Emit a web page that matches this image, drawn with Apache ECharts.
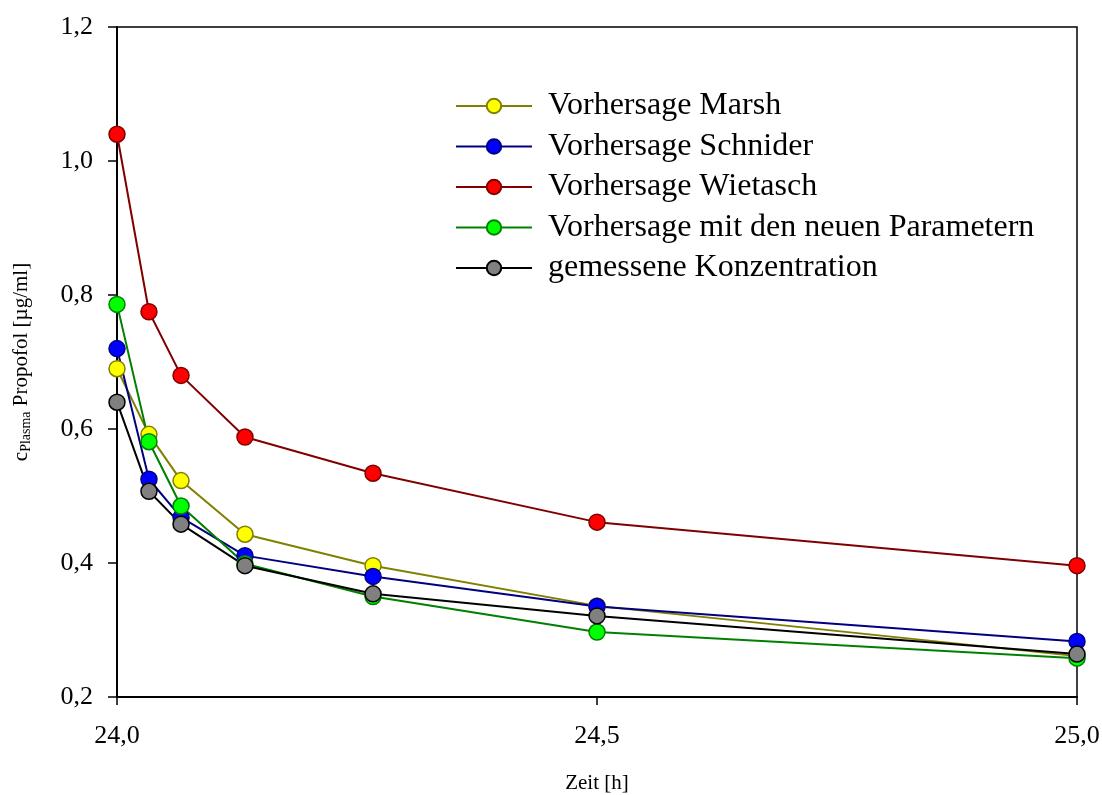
<!DOCTYPE html>
<html>
<head>
<meta charset="utf-8">
<script src="https://cdn.jsdelivr.net/npm/echarts@6/dist/echarts.min.js"></script>
<style>html,body{margin:0;padding:0;background:#fff;}#c{width:1102px;height:795px;}</style>
</head>
<body>
<div id="c"></div>
<script>
var times = [24.0, 24.0333, 24.0667, 24.1333, 24.2667, 24.5, 25.0];
var marsh = [0.690, 0.592, 0.523, 0.443, 0.396, 0.336, 0.261];
var schnider = [0.720, 0.525, 0.468, 0.411, 0.380, 0.335, 0.283];
var wietasch = [1.040, 0.775, 0.680, 0.588, 0.534, 0.461, 0.396];
var neu = [0.786, 0.581, 0.485, 0.399, 0.350, 0.297, 0.258];
var gemessen = [0.640, 0.507, 0.458, 0.396, 0.354, 0.321, 0.264];
var seriesNames = ['Vorhersage Marsh', 'Vorhersage Schnider', 'Vorhersage Wietasch', 'Vorhersage mit den neuen Parametern', 'gemessene Konzentration'];

var styles = [
  {line: '#808000', fill: '#ffff00'},
  {line: '#000080', fill: '#0000ff'},
  {line: '#800000', fill: '#ff0000'},
  {line: '#008000', fill: '#00ff00'},
  {line: '#000000', fill: '#808080'}
];
var allData = [marsh, schnider, wietasch, neu, gemessen];
function pairs(vals) { return times.map(function (t, i) { return [t, vals[i]]; }); }

var font = 'Liberation Serif, Times New Roman, serif';
var series = allData.map(function (vals, k) {
  return {
    name: seriesNames[k],
    type: 'line',
    data: pairs(vals),
    symbol: 'circle',
    symbolSize: 16,
    lineStyle: {color: styles[k].line, width: 2},
    itemStyle: {color: styles[k].fill, borderColor: styles[k].line, borderWidth: 1.5},
    emphasis: {disabled: true},
    animation: false
  };
});

var chart = echarts.init(document.getElementById('c'));
chart.setOption({
  backgroundColor: '#fff',
  animation: false,
  grid: {left: 117, right: 25, top: 27, bottom: 98, containLabel: false, outerBoundsMode: 'none',
         show: true, borderColor: '#000', borderWidth: 1.5},
  legend: {
    left: 450, top: 85, orient: 'vertical',
    itemWidth: 76, itemHeight: 18, itemGap: 8.5,
    textStyle: {fontFamily: font, fontSize: 32, color: '#000', lineHeight: 32, padding: [0, 0, 0, 11]},
    data: seriesNames
  },
  xAxis: {
    type: 'value', min: 24, max: 25, interval: 0.5,
    name: 'Zeit [h]', nameLocation: 'middle', nameGap: 76,
    nameTextStyle: {fontFamily: font, fontSize: 21, color: '#000'},
    axisLine: {lineStyle: {color: '#000', width: 2}},
    axisTick: {show: true, length: 8, lineStyle: {color: '#000', width: 1.5}},
    axisLabel: {fontFamily: font, fontSize: 26, color: '#000', margin: 26, formatter: function (v) { return v.toFixed(1).replace('.', ','); }},
    splitLine: {show: false}
  },
  yAxis: {
    type: 'value', min: 0.2, max: 1.2, interval: 0.2,
    name: '{a|c}{b|Plasma}{a| Propofol [µg/ml]}', nameLocation: 'middle', nameGap: 84,
    nameTextStyle: {
      fontFamily: font, color: '#000',
      rich: {
        a: {fontFamily: font, fontSize: 21, color: '#000'},
        b: {fontFamily: font, fontSize: 14, color: '#000', verticalAlign: 'bottom', padding: [9, 0, 0, 0]}
      }
    },
    axisLine: {show: true, lineStyle: {color: '#000', width: 2}},
    axisTick: {show: true, length: 9, lineStyle: {color: '#000', width: 1.5}},
    axisLabel: {fontFamily: font, fontSize: 26, color: '#000', margin: 24, formatter: function (v) { return v.toFixed(1).replace('.', ','); }},
    splitLine: {show: false}
  },
  series: series
});
</script>
</body>
</html>
